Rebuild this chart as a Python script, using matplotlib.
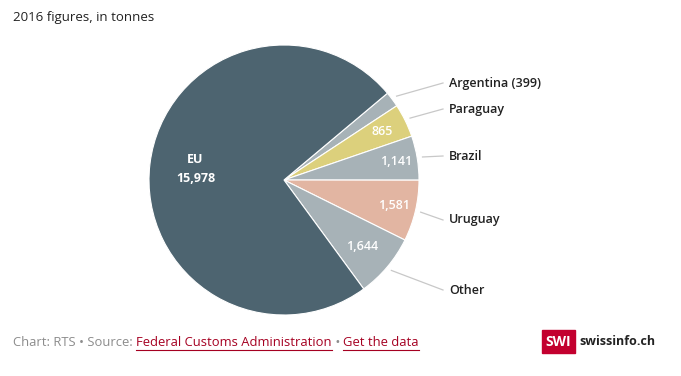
import numpy as np
import matplotlib.pyplot as plt
from matplotlib.patches import Rectangle
from matplotlib.lines import Line2D

plt.rcParams['font.family'] = ['Open Sans', 'DejaVu Sans']

# data (tonnes, 2016)
countries = ['Argentina', 'Paraguay', 'Brazil', 'Uruguay', 'Other', 'EU']
tonnes = [399, 865, 1141, 1581, 1644, 15978]
colors = ['#a7b2b7', '#dcd07c', '#a7b2b7', '#e2b5a2', '#a7b2b7', '#4d6470']
outside_labels = ['Argentina (399)', 'Paraguay', 'Brazil', 'Uruguay', 'Other', None]

W, H = 681, 376
fig = plt.figure(figsize=(W / 100, H / 100), dpi=100)

# pie centre and radius in pixels
cx, cy, R = 284, 180, 135
ax = fig.add_axes([(cx - R) / W, 1 - (cy + R) / H, 2 * R / W, 2 * R / H])
wedges, _ = ax.pie(tonnes, colors=colors, startangle=40, counterclock=False,
                   radius=1, wedgeprops=dict(edgecolor='white', linewidth=0.8))
ax.set_xlim(-1, 1)
ax.set_ylim(-1, 1)
ax.set_aspect('equal')
ax.axis('off')


def px(x, y):
    # pixel -> data coords of the pie axes
    return (x - cx) / R, (cy - y) / R


# outside labels: pixel y of label text (layout)
label_y = [83, 109, 156, 220, 290]
for w, lab, ly in zip(wedges, outside_labels, label_y):
    mid = np.deg2rad((w.theta1 + w.theta2) / 2)
    x0, y0 = 1.04 * np.cos(mid), 1.04 * np.sin(mid)
    x1, y1 = px(443, ly)
    ax.add_line(Line2D([x0, x1], [y0, y1], color='#c8c8c8', lw=0.9, clip_on=False))
    tx, ty = px(449, ly)
    ax.text(tx, ty, lab, ha='left', va='center', fontsize=9, fontweight='semibold',
            color='#222222', clip_on=False)

# inside value labels
inner_r = [None, 0.81, 0.84, 0.84, 0.76]
for w, v, r in zip(wedges[:5], tonnes[:5], inner_r):
    if r is None:
        continue
    mid = np.deg2rad((w.theta1 + w.theta2) / 2)
    ax.text(r * np.cos(mid), r * np.sin(mid), f'{v:,}', ha='center', va='center',
            fontsize=9, fontweight='semibold', color='white')

eu = wedges[5]
mid = np.deg2rad((eu.theta1 + eu.theta2) / 2)
ex, ey = 0.66 * np.cos(mid), 0.66 * np.sin(mid)
ax.text(ex, ey + 0.07, 'EU', ha='center', va='center', fontsize=9,
        color='white', fontweight='bold')
ax.text(ex, ey - 0.07, f'{tonnes[5]:,}', ha='center', va='center', fontsize=9,
        color='white', fontweight='bold')

# title
fig.text(13 / W, 1 - 17 / H, '2016 figures, in tonnes', fontsize=9.5,
         color='#222222', ha='left', va='center')

# footer
renderer = fig.canvas.get_renderer()
pieces = [('Chart: RTS \u2022 Source: ', '#8c8c8c', False),
          ('Federal Customs Administration', '#a50021', True),
          (' \u2022 ', '#8c8c8c', False),
          ('Get the data', '#a50021', True)]
x = 13
fy = 342
for txt, col, ul in pieces:
    t = fig.text(x / W, 1 - fy / H, txt, fontsize=9.4, color=col, ha='left', va='center')
    bb = t.get_window_extent(renderer)
    if ul:
        fig.add_artist(Line2D([bb.x0 / W, bb.x1 / W], [1 - 350 / H, 1 - 350 / H],
                              color=col, lw=0.8, transform=fig.transFigure))
    x += bb.width

# logo
fig.add_artist(Rectangle((542 / W, 1 - 353 / H), 33 / W, 23 / H, color='#c3002f',
                         transform=fig.transFigure))
fig.text(558.5 / W, 1 - 341.5 / H, 'SWI', fontsize=10, color='white',
         fontweight='bold', ha='center', va='center')
fig.text(579 / W, 1 - 341.5 / H, 'swissinfo.ch', fontsize=9, color='#222222',
         fontweight='bold', ha='left', va='center')

fig.savefig('out.png', dpi=100, facecolor='white')
